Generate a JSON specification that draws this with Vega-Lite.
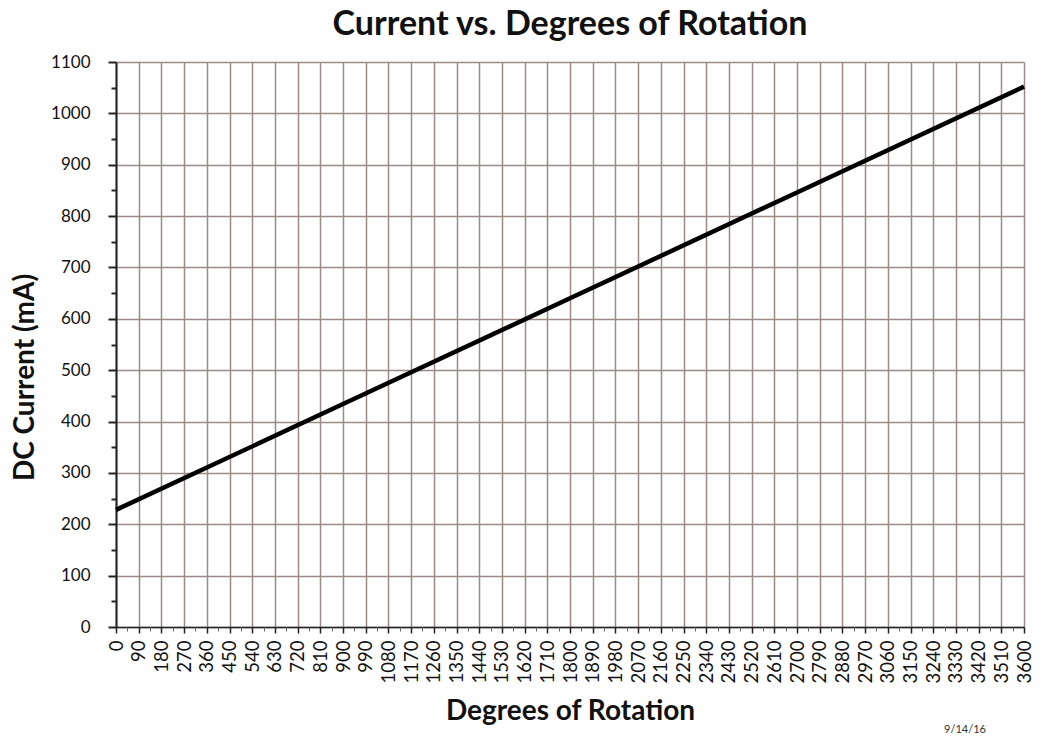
{
  "$schema": "https://vega.github.io/schema/vega-lite/v6.json",
  "width": 908,
  "height": 565,
  "autosize": {"type": "none"},
  "padding": {"left": 116, "top": 62, "right": 18, "bottom": 113},
  "background": "white",
  "config": {
    "font": "Lato",
    "view": {"stroke": null},
    "axis": {"labelFont": "Lato", "titleFont": "Lato"}
  },
  "title": {
    "text": "Current vs. Degrees of Rotation",
    "font": "Lato",
    "fontSize": 34,
    "fontWeight": "bold",
    "color": "#111",
    "offset": 11,
    "anchor": "middle"
  },
  "data": {
    "values": [
      {"deg": 0, "mA": 228},
      {"deg": 900, "mA": 434},
      {"deg": 1800, "mA": 640},
      {"deg": 2700, "mA": 846},
      {"deg": 3600, "mA": 1052}
    ]
  },
  "layer": [
    {
      "mark": {"type": "line", "color": "black", "strokeWidth": 4.5},
      "encoding": {
        "x": {
          "field": "deg", "type": "quantitative",
          "scale": {"domain": [0, 3600], "nice": false},
          "axis": {
            "title": "Degrees of Rotation",
            "titleFontSize": 28, "titleFontWeight": "bold", "titleColor": "#111",
            "titlePadding": 15,
            "values": [0,90,180,270,360,450,540,630,720,810,900,990,1080,1170,1260,1350,1440,1530,1620,1710,1800,1890,1980,2070,2160,2250,2340,2430,2520,2610,2700,2790,2880,2970,3060,3150,3240,3330,3420,3510,3600],
            "format": "d",
            "labelAngle": -90,
            "labelFontSize": 18.5,
            "labelColor": "#111",
            "labelPadding": 7,
            "labelOverlap": false,
            "labelBound": false,
            "labelFlush": false,
            "domainColor": "#222", "domainWidth": 1.5,
            "tickColor": "#222", "tickWidth": 1.5, "tickSize": 6,
            "grid": true, "gridColor": "#9c8a86", "gridWidth": 1.5
          }
        },
        "y": {
          "field": "mA", "type": "quantitative",
          "scale": {"domain": [0, 1100], "nice": false},
          "axis": {
            "title": "DC Current (mA)",
            "titleFontSize": 28, "titleFontWeight": "bold", "titleColor": "#111",
            "titleAngle": -90,
            "titleX": -91,
            "titleY": 315,
            "titleBaseline": "middle",
            "titleAlign": "center",
            "values": [0,100,200,300,400,500,600,700,800,900,1000,1100],
            "format": "d",
            "labelFontSize": 17,
            "labelColor": "#111",
            "labelPadding": 18,
            "labelBound": false,
            "labelFlush": false,
            "domainColor": "#222", "domainWidth": 2,
            "tickColor": "#222", "tickWidth": 2, "tickSize": 8,
            "grid": true, "gridColor": "#9c8a86", "gridWidth": 1.5
          }
        }
      }
    },
    {
      "mark": {"type": "line", "opacity": 0},
      "encoding": {
        "x": {
          "field": "deg", "type": "quantitative",
          "axis": {
            "orient": "bottom", "title": null, "labels": false, "domain": false, "grid": false,
            "values": [45,135,225,315,405,495,585,675,765,855,945,1035,1125,1215,1305,1395,1485,1575,1665,1755,1845,1935,2025,2115,2205,2295,2385,2475,2565,2655,2745,2835,2925,3015,3105,3195,3285,3375,3465,3555],
            "tickColor": "#666", "tickWidth": 1, "tickSize": 4
          }
        },
        "y": {
          "field": "mA", "type": "quantitative",
          "axis": {
            "orient": "left", "title": null, "labels": false, "domain": false, "grid": false,
            "values": [50,150,250,350,450,550,650,750,850,950,1050],
            "tickColor": "#222", "tickWidth": 2, "tickSize": 5
          }
        }
      }
    },
    {
      "data": {"values": [{"note": "9/14/16"}]},
      "mark": {"type": "text", "font": "Lato", "fontSize": 11, "color": "#333", "clip": false},
      "encoding": {
        "text": {"field": "note", "type": "nominal"},
        "x": {"datum": 3366, "type": "quantitative", "axis": null},
        "y": {"datum": -200, "type": "quantitative", "axis": null}
      }
    }
  ],
  "resolve": {"axis": {"x": "independent", "y": "independent"}}
}
